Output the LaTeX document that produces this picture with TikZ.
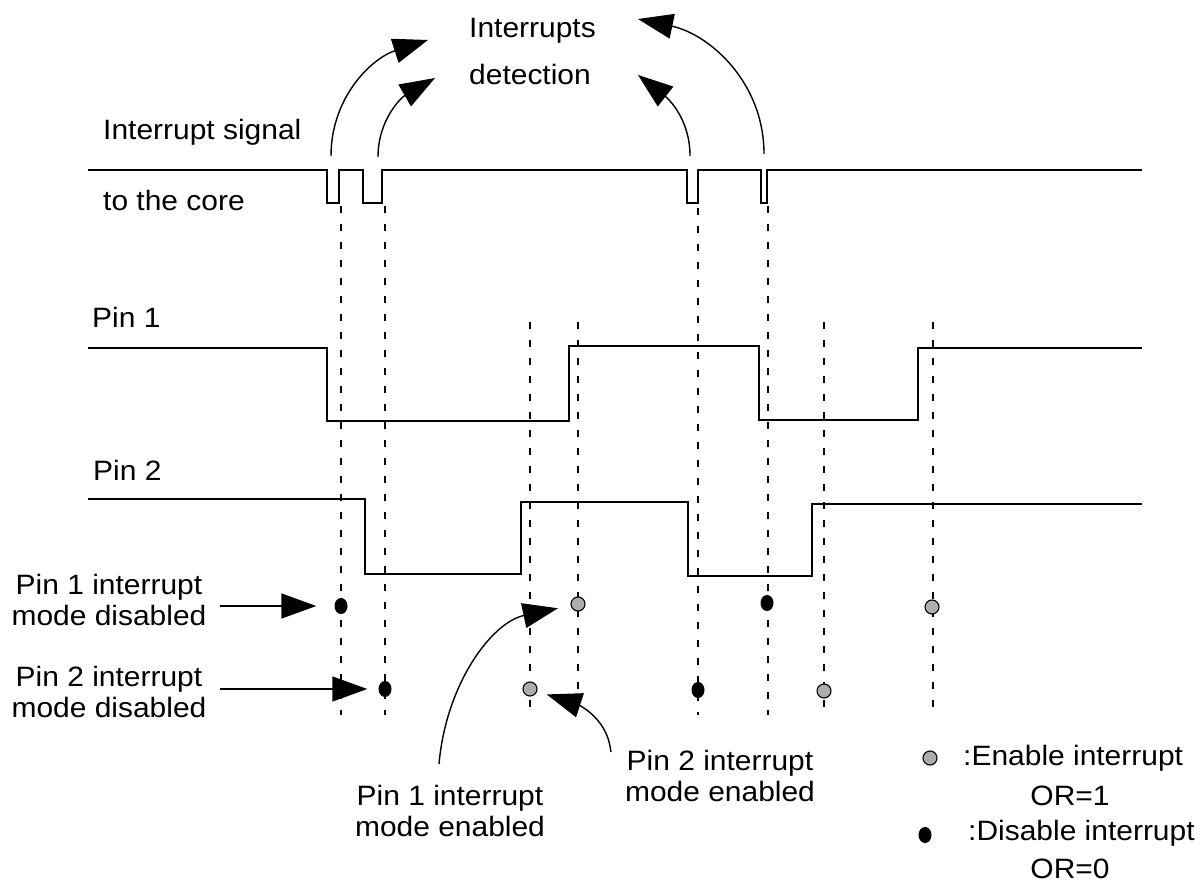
\documentclass[tikz,border=0pt]{standalone}
\usepackage{fontspec}
\setmainfont{Liberation Sans}[FakeStretch=1.07]
\usepackage{tikz}
\usetikzlibrary{arrows.meta,shapes.geometric}

\newcommand{\lblfont}{\fontsize{28pt}{31pt}\selectfont}
\definecolor{dotgray}{gray}{0.68}

\begin{document}
\begin{tikzpicture}[x=1pt,y=1pt,
  every node/.style={font=\lblfont, inner sep=0pt},
  wave/.style={line width=1.8pt},
  guide/.style={line width=1.4pt, dash pattern=on 7pt off 11pt},
  ptr/.style={line width=1.4pt, -{Triangle[length=35pt,width=25pt]}},
  ondot/.style={circle, draw, line width=1.1pt, fill=dotgray, minimum size=14pt},
  offdot/.style={ellipse, fill=black, minimum width=13pt, minimum height=16pt}]
  \useasboundingbox (0,0) rectangle (1204,884);

  % Signal to the core
  \draw[wave] (88,714) -- (327,714) -- (327,681) -- (339,681) -- (339,714)
    -- (363,714) -- (363,681) -- (382,681) -- (382,714)
    -- (687,714) -- (687,681) -- (698,681) -- (698,714)
    -- (761,714) -- (761,681) -- (767,681) -- (767,714) -- (1142,714);

  % Pin 1 and Pin 2
  \draw[wave] (88,536) -- (327,536) -- (327,463) -- (569,463) -- (569,538)
    -- (759,538) -- (759,464) -- (918,464) -- (918,536) -- (1142,536);
  \draw[wave] (88,385) -- (365,385) -- (365,310) -- (521,310) -- (521,382)
    -- (688,382) -- (688,308) -- (812,308) -- (812,380) -- (1142,380);

  % Guide lines
  \foreach \x/\ytop in {341/678, 385/678, 530/562, 578/562, 698/676, 768/678, 824/562, 933/562}
    \draw[guide] (\x,\ytop) -- (\x,169);

  % Signal names
  \node[anchor=west] (sigtop) at (103,752) {Interrupt signal};
  \node[anchor=west] (sigbot) at (103,684) {to the core};
  \node[anchor=west] (pinA) at (92,567) {Pin 1};
  \node[anchor=west] (pinB) at (93,414) {Pin 2};

  % Interrupts detection
  \node[align=left, anchor=west] (detect) at (469,832) {Interrupts\\[16pt]detection};
  \coordinate (sA) at (331,728);
  \coordinate (sB) at (378,727);
  \coordinate (sC) at (690,728);
  \coordinate (sD) at (764,730);
  \coordinate (tA) at (428,844);
  \coordinate (tB) at (435,806);
  \coordinate (tC) at (638,809);
  \coordinate (tD) at (638,865);
  \draw[ptr] (sA) to[out=90,in=198] (tA);
  \draw[ptr] (sB) to[out=90,in=210] (tB);
  \draw[ptr] (sC) to[out=90,in=-38] (tC);
  \draw[ptr] (sD) to[out=90,in=-12] (tD);

  % Interrupt mode dots
  \node[offdot] (offA) at (341,278) {};
  \node[offdot] (offB) at (385,195) {};
  \node[ondot] (onA) at (578,280) {};
  \node[ondot] (onB) at (530,195) {};
  \node[offdot] (offC) at (698,194) {};
  \node[offdot] (offD) at (767,281) {};
  \node[ondot] (onC) at (824,193) {};
  \node[ondot] (onD) at (932,277) {};

  % Annotations
  \node[align=center] (disA) at (109,284) {Pin 1 interrupt\\mode disabled};
  \node[align=center] (disB) at (109,192) {Pin 2 interrupt\\mode disabled};
  \node[align=center] (enA) at (450,73) {Pin 1 interrupt\\mode enabled};
  \node[align=center] (enB) at (720,108) {Pin 2 interrupt\\mode enabled};
  \draw[ptr, shorten <=13pt, shorten >=18pt] (disA.east |- offA) -- (offA);
  \draw[ptr, shorten <=13pt, shorten >=11pt] (disB.east |- offB) -- (offB);
  \draw[ptr, shorten >=13pt] ([xshift=-11pt,yshift=21pt]enA.north) to[out=85,in=192] (onA);
  \draw[ptr, shorten >=10pt] ([xshift=-14pt,yshift=-2pt]enB.north west) to[out=95,in=-18] (onB);

  % Legend
  \node[ondot] (keyon) at (930,126) {};
  \node[anchor=west] (keyontxt) at (963,126) {:Enable interrupt};
  \node (keyonor) at (1070,88) {OR=1};
  \node[offdot] (keyoff) at (925,49) {};
  \node[anchor=west] (keyofftxt) at (968,51) {:Disable interrupt};
  \node (keyoffor) at (1070,15) {OR=0};
\end{tikzpicture}
\end{document}
